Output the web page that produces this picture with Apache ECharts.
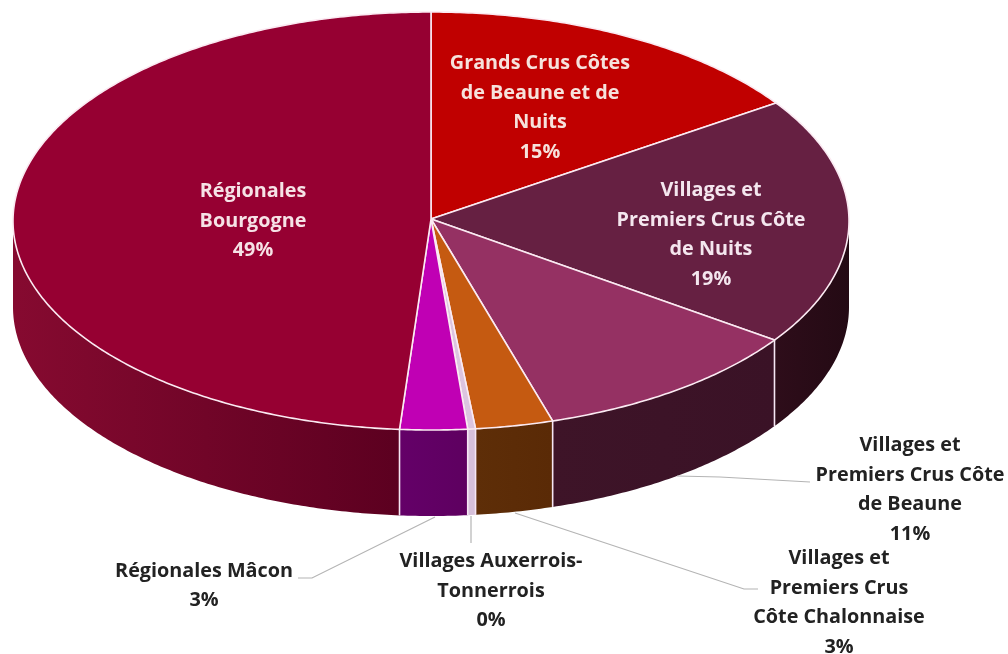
<!DOCTYPE html>
<html>
<head>
<meta charset="utf-8">
<style>html,body{margin:0;padding:0;background:#fff}#c{width:1008px;height:654px}</style>
<script src="https://cdn.jsdelivr.net/npm/echarts@6/dist/echarts.min.js"></script>
</head>
<body>
<div id="c"></div>
<script>
const categories = [
  'Grands Crus Côtes\nde Beaune et de\nNuits',
  'Villages et\nPremiers Crus Côte\nde Nuits',
  'Villages et\nPremiers Crus Côte\nde Beaune',
  'Villages et\nPremiers Crus\nCôte Chalonnaise',
  'Villages Auxerrois-\nTonnerrois',
  'Régionales Mâcon',
  'Régionales\nBourgogne'
];
const shares = [15.45, 19.2, 10.65, 3.0, 0.3, 2.6, 48.8];
const topColors = ['#c00000', '#662042', '#953163', '#c55a11', '#dcc4e0', '#c000b4', '#960032'];
const sideColors = [
  ['#7a0000', '#7a0000'], ['#2e0d1a', '#240a14'], ['#3e1428', '#3a1226'], ['#5e2e08', '#5a2a06'],
  ['#d6c0da', '#d6c0da'], ['#640068', '#5e0060'], ['#860a30', '#5c0020']
];
const labelAnchors = [[540, 108], [711, 235], [910, 490], [839, 603], [491, 591], [204, 586], [253, 221]];
const labelColors = ['#f6e2dc', '#f4e6ee', '#222', '#222', '#222', '#222', '#f6e2e6'];
const leaderPaths = [null, null,
  [[677, 476], [720, 477], [810, 482]],
  [[515, 513], [744, 589], [758, 589]],
  [[471, 516], [471, 543]],
  [[435, 517], [312, 578], [298, 578]],
  null];

const CX = 431, CY = 221, APEX_Y = 219, RX = 418, RY = 209, DEPTH = 86;
const total = shares.reduce((a, b) => a + b, 0);
let running = 0;
const rows = shares.map((v, i) => { const r = [v, running, i]; running += v; return r; });

function pt(t, dy) {
  return [CX + RX * Math.sin(t), CY - RY * Math.cos(t) + (dy || 0)];
}
function arc(a, b, dy) {
  const n = Math.max(2, Math.ceil(Math.abs(b - a) / 0.01));
  const out = [];
  for (let k = 0; k <= n; k++) out.push(pt(a + (b - a) * k / n, dy));
  return out;
}
function renderItem(params, api) {
  const value = api.value(0), start = api.value(1), i = api.value(2);
  const a = start / total * 2 * Math.PI;
  const b = (start + value) / total * 2 * Math.PI;
  const children = [];
  const sa = Math.max(a, Math.PI / 2), sb = Math.min(b, 1.5 * Math.PI);
  if (sb > sa) {
    const pts = arc(sa, sb, 0).concat(arc(sb, sa, DEPTH));
    children.push({
      type: 'polygon', z2: 1, shape: { points: pts },
      style: {
        fill: new echarts.graphic.LinearGradient(0, 0, 1, 0, [
          { offset: 0, color: sideColors[i][0] }, { offset: 1, color: sideColors[i][1] }
        ]),
        stroke: null
      }
    });
    if (b < 1.5 * Math.PI && b > Math.PI / 2) {
      const p0 = pt(b, 0), p1 = pt(b, DEPTH);
      children.push({
        type: 'line', z2: 2, shape: { x1: p0[0], y1: p0[1], x2: p1[0], y2: p1[1] },
        style: { stroke: '#f6e6f4', lineWidth: 1.6 }
      });
    }
  }
  children.push({
    type: 'polygon', z2: 3, shape: { points: [[CX, APEX_Y]].concat(arc(a, b, 0)) },
    style: { fill: topColors[i], stroke: '#fbeaf2', lineWidth: 1.6, lineJoin: 'round' }
  });
  if (leaderPaths[i]) {
    children.push({
      type: 'polyline', z2: 4, shape: { points: leaderPaths[i] },
      style: { stroke: '#b4b4b4', lineWidth: 1.2, fill: null }
    });
  }
  children.push({
    type: 'text', z2: 5, x: labelAnchors[i][0], y: labelAnchors[i][1],
    style: {
      text: categories[i] + '\n' + Math.round(value) + '%',
      align: 'center', verticalAlign: 'middle',
      font: 'bold 19.8px "Open Sans", Lato, sans-serif',
      lineHeight: 29.5, fill: labelColors[i]
    }
  });
  return { type: 'group', children };
}
const chart = echarts.init(document.getElementById('c'), null, { renderer: 'canvas' });
chart.setOption({
  animation: false,
  backgroundColor: '#fff',
  series: [{
    type: 'custom',
    coordinateSystem: 'none',
    renderItem,
    data: rows
  }]
});
</script>
</body>
</html>
